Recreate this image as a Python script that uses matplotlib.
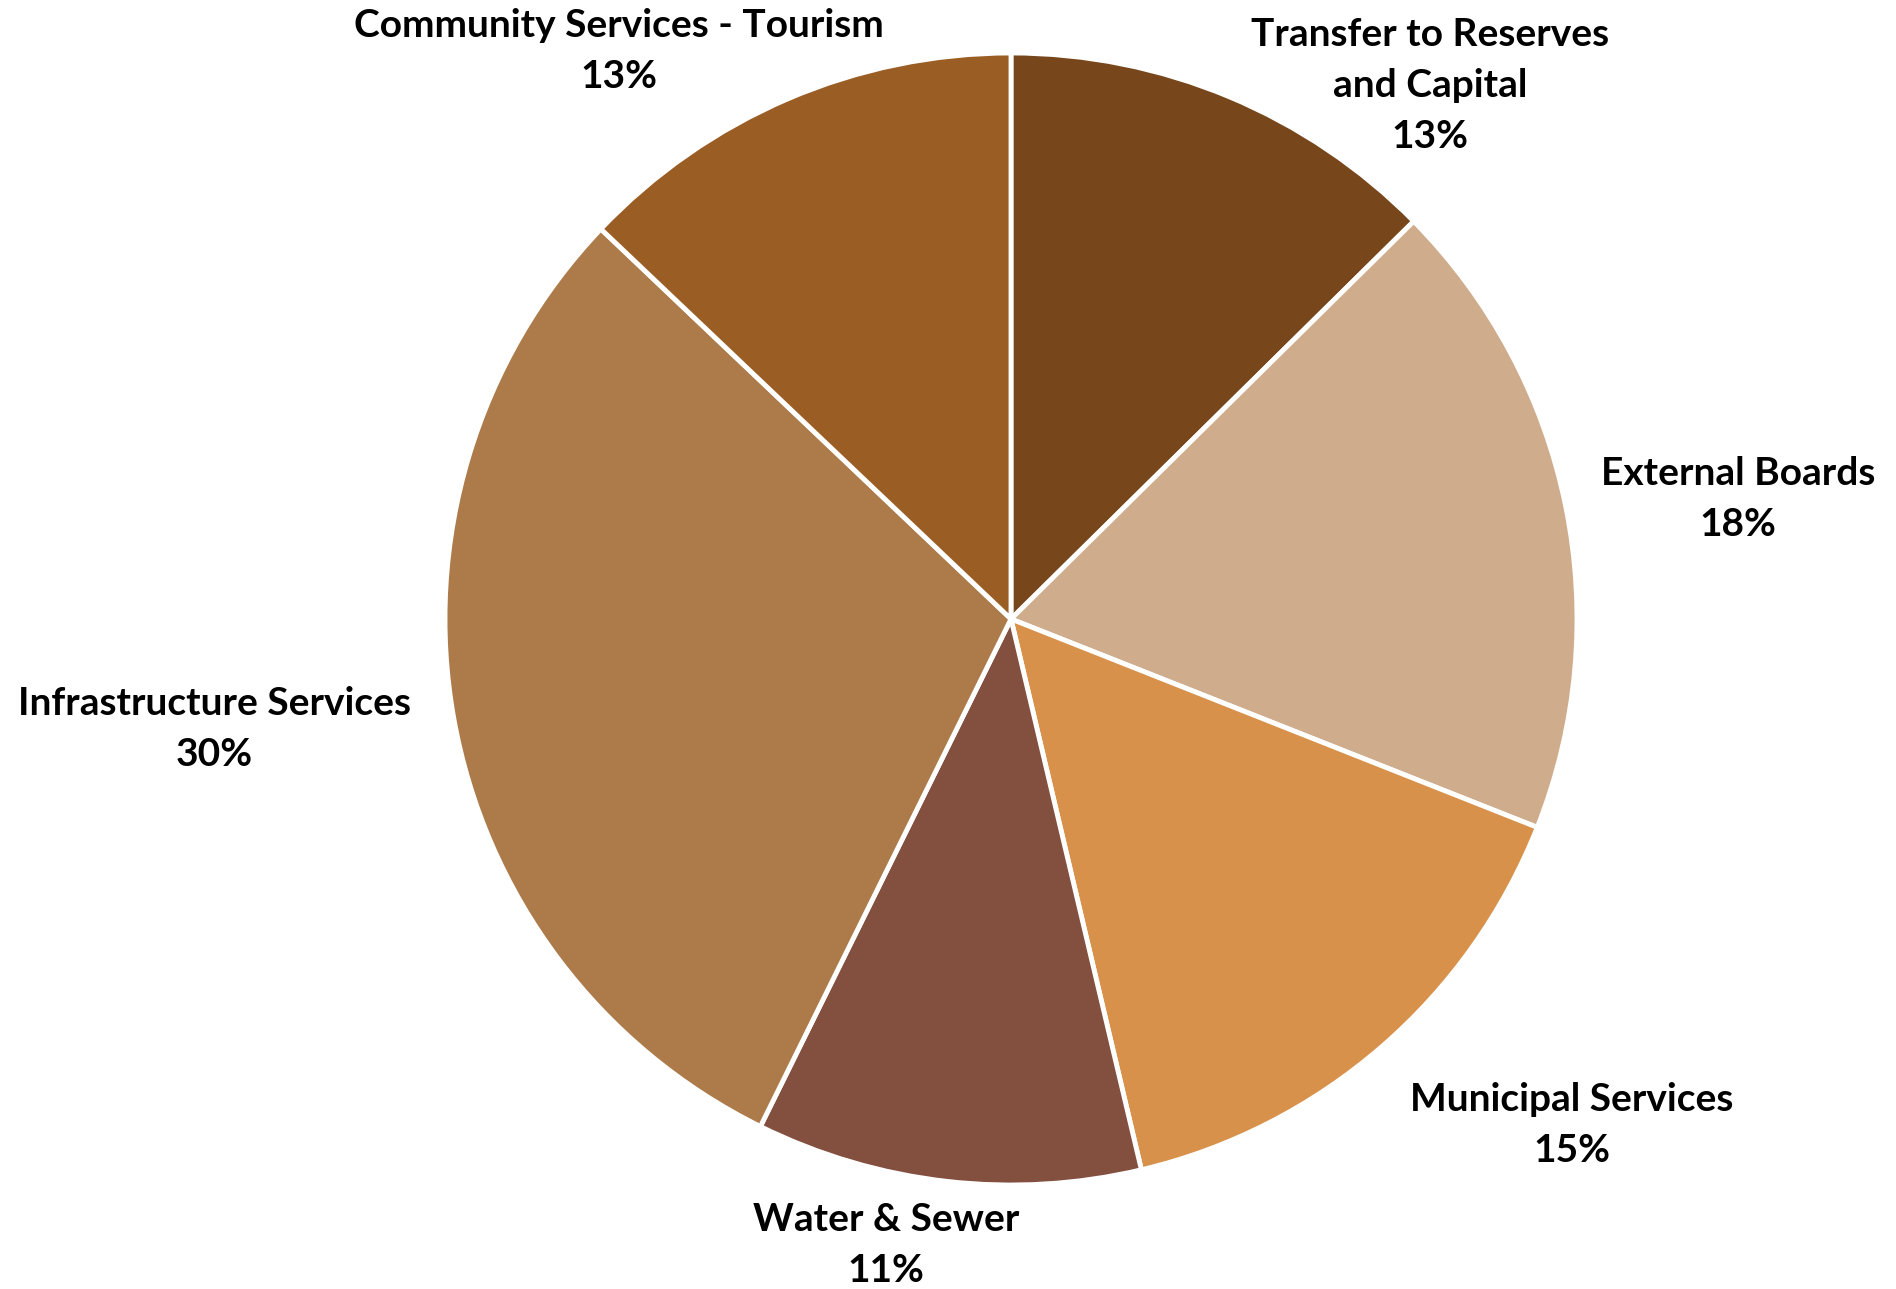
import matplotlib
matplotlib.use("Agg")
import matplotlib.pyplot as plt
import numpy as np

categories = ["Transfer to Reserves\nand Capital", "External Boards", "Municipal Services",
              "Water & Sewer", "Infrastructure Services", "Community Services - Tourism"]
values = [12.6, 18.4, 15.3, 11.0, 29.8, 12.9]
colors = ["#77461B", "#CFAC8B", "#D8914A", "#834F3E", "#AD7B4A", "#9A5D24"]

# label centre positions (in pie-radius units, style/layout only)
label_pos = [(0.740, 0.943), (1.284, 0.212), (0.991, -0.894),
             (-0.221, -1.106), (-1.408, -0.194), (-0.693, 1.003)]

W, H, DPI = 1896, 1289, 100
fig = plt.figure(figsize=(W / DPI, H / DPI), dpi=DPI)
ax = fig.add_axes([0, 0, 1, 1])

cx, cy, R = 1011, 619, 566
ax.pie(values, colors=colors, startangle=90, counterclock=False, radius=1,
       wedgeprops=dict(edgecolor="white", linewidth=3.5))
ax.set_aspect("auto")
ax.set_xlim(-cx / R, (W - cx) / R)
ax.set_ylim(-(H - cy) / R, cy / R)
ax.axis("off")

total = sum(values)
for name, v, (lx, ly) in zip(categories, values, label_pos):
    ax.text(lx, ly, f"{name}\n{v / total * 100:.0f}%", ha="center", va="center",
            fontsize=28, fontweight="bold", family=["Lato", "DejaVu Sans"],
            linespacing=1.55, color="black")

fig.savefig("out.png", dpi=DPI, facecolor="white")
